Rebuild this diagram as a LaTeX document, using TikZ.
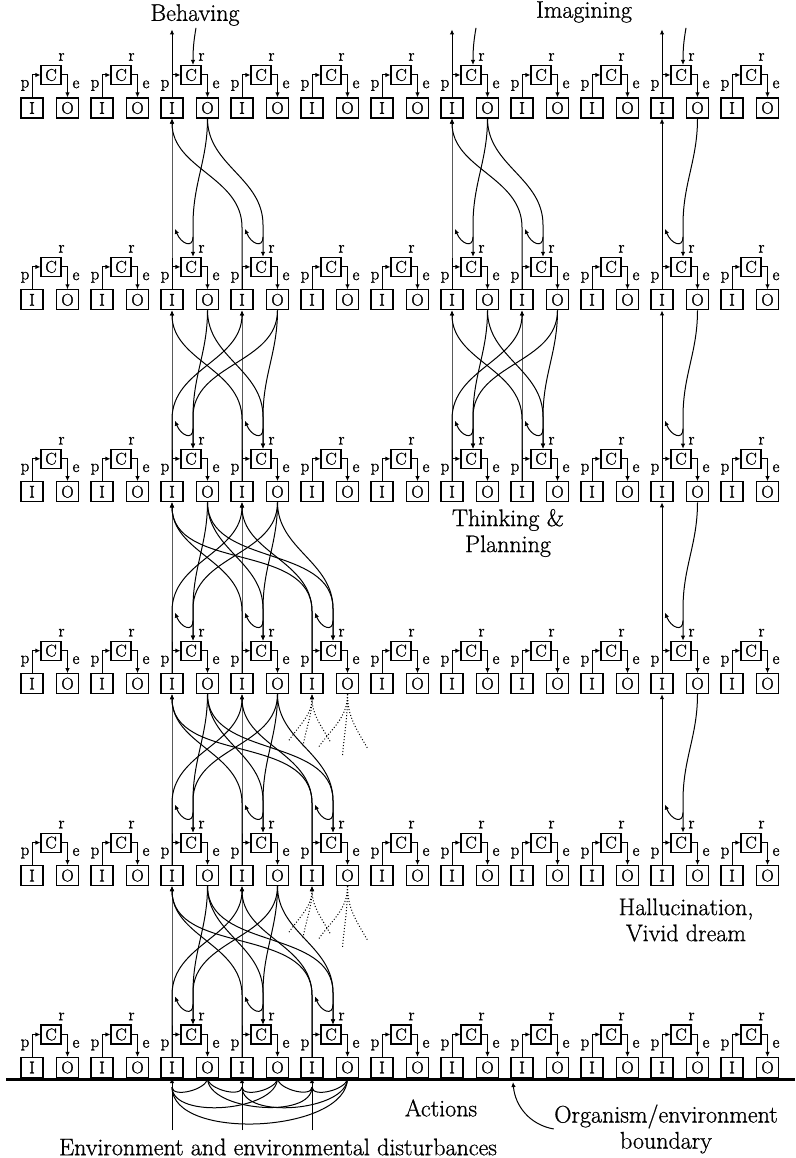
\documentclass[tikz,border=0pt]{standalone}
\usepackage{fontspec}
\usepackage{tikz}
\usetikzlibrary{arrows.meta,calc}
\newfontfamily\diagfont{Latin Modern Roman}[FakeBold=1.5]
\newfontfamily\labelfont{Latin Modern Roman}[FakeBold=0.8]
\tikzset{>={Latex[length=5pt,width=4.5pt]}}
\tikzset{unitbox/.style = {shape=rectangle,draw, line width=1.1pt, minimum width=22pt,
minimum height=20pt, inner sep=0pt, font=\diagfont\fontsize{17}{17}\selectfont}}
\tikzset{cbox/.style = {unitbox, minimum width=20pt, minimum height=19pt}}
\tikzset{sig/.style = {inner sep=0pt, font=\diagfont\fontsize{17}{17}\selectfont}}
\tikzset{caption/.style = {inner sep=0pt, align=center, font=\labelfont\fontsize{24}{26}\selectfont}}
\tikzset{wire/.style = {line width=1pt}}

\begin{document}
\begin{tikzpicture}[x=1pt,y=1pt,wire]
\useasboundingbox (0,0) rectangle (795,1158);

% six levels, eleven control units each
\foreach \r in {1,...,6} {
  \foreach \k in {0,...,10} {
    \pgfmathsetmacro{\xi}{32+70*\k}
    \pgfmathsetmacro{\yi}{1050-191.9*(\r-1)}
    \node[unitbox] (I-\r-\k) at (\xi,\yi) {I};
    \node[unitbox] (O-\r-\k) at (\xi+35.5,\yi) {O};
    \node[cbox] (C-\r-\k) at (\xi+19,\yi+33) {C};
    \draw[->] (I-\r-\k.north) |- (C-\r-\k.west);
    \draw[->] (C-\r-\k.east) -| (O-\r-\k.north);
    \node[sig] (p-\r-\k) at ($(I-\r-\k.north)+(-7,12)$) {p};
    \node[sig] (e-\r-\k) at ($(O-\r-\k.north)+(8.5,13)$) {e};
    \node[sig] (r-\r-\k) at ($(C-\r-\k.north east)+(0,8)$) {r};
  }
}

% links between a level and the one below it
\foreach \r/\ups/\lows in {1/{2}/{2,3}, 2/{2,3}/{2,3}, 3/{2,3}/{2,3,4}, 4/{2,3}/{2,3,4},
    5/{2,3}/{2,3,4}, 1/{6}/{6,7}, 2/{6,7}/{6,7}, 1/{9}/{9}, 2/{9}/{9}, 3/{9}/{9}, 4/{9}/{9}} {
  \pgfmathtruncatemacro{\s}{\r+1}
  \foreach \l in \lows {
    \foreach \u in \ups {
      \draw[->] (I-\s-\l.north) -- ++(0,62) to[out=90,in=-90] (I-\r-\u.south);
      \draw[->] (O-\r-\u.south) to[out=-90,in=90] ($(C-\s-\l.north)+(2,32)$)
        -- ($(C-\s-\l.north)+(2,0)$);
    }
    \draw[->] ($(C-\s-\l.north)+(2,20)$) .. controls +(0,-12) and +(6,-15)
      .. ($(C-\s-\l.north)+(-16,28)$);
  }
}

% unfinished links
\foreach \r in {4,5} {
  \foreach \dx/\dy/\a in {-23/-46/55, -9/-52/80, 18/-47/120} {
    \draw[dotted,->] ($(I-\r-4.south)+(\dx,\dy)$) to[out=\a,in=-90] (I-\r-4.south);
  }
  \foreach \dx/\dy/\a in {-29/-53/55, -5/-61/85, 20/-54/120} {
    \draw[dotted] (O-\r-4.south) to[out=-90,in=\a] ($(O-\r-4.south)+(\dx,\dy)$);
  }
}

% top level in- and outputs
\foreach \k in {2,6,9} {
  \coordinate (up-\k) at ($(I-1-\k.north)+(0,68)$);
  \coordinate (ref-\k) at ($(C-1-\k.north)+(5,37)$);
  \draw[->] (I-1-\k.north) -- (up-\k);
  \draw[->] (ref-\k) to[out=-100,in=90] ($(C-1-\k.north)+(2,0)$);
}

% organism / environment boundary
\draw[line width=2.5pt] (6,78.5) -- (795,78.5);
\foreach \k in {2,3,4} {
  \coordinate (env-\k) at ($(I-6-\k.south)+(0,-52)$);
  \draw[->] (env-\k) -- (I-6-\k.south);
}
\foreach \o/\i in {2/2, 2/3, 2/4, 3/2, 3/3, 3/4, 4/2, 4/3, 4/4} {
  \draw (O-6-\o.south) to[out=-90,in=-90,looseness=0.8] ($(I-6-\i.south)+(0,-9)$);
}

\node[caption] (behaving) at (195,1143) {Behaving};
\node[caption] (imagining) at (584,1146) {Imagining};
\node[caption] (thinking) at (508,625) {Thinking \&\\Planning};
\node[caption] (dream) at (686,238) {Hallucination,\\Vivid dream};
\node[caption] (actions) at (441,50) {Actions};
\node[caption] (boundary) at (666,29) {Organism/environment\\boundary};
\node[caption] (environment) at (278,11) {Environment and environmental disturbances};
\coordinate (edge) at (513,76);
\draw[->] (boundary.west) to[out=170,in=-85] (edge);
\end{tikzpicture}
\end{document}
